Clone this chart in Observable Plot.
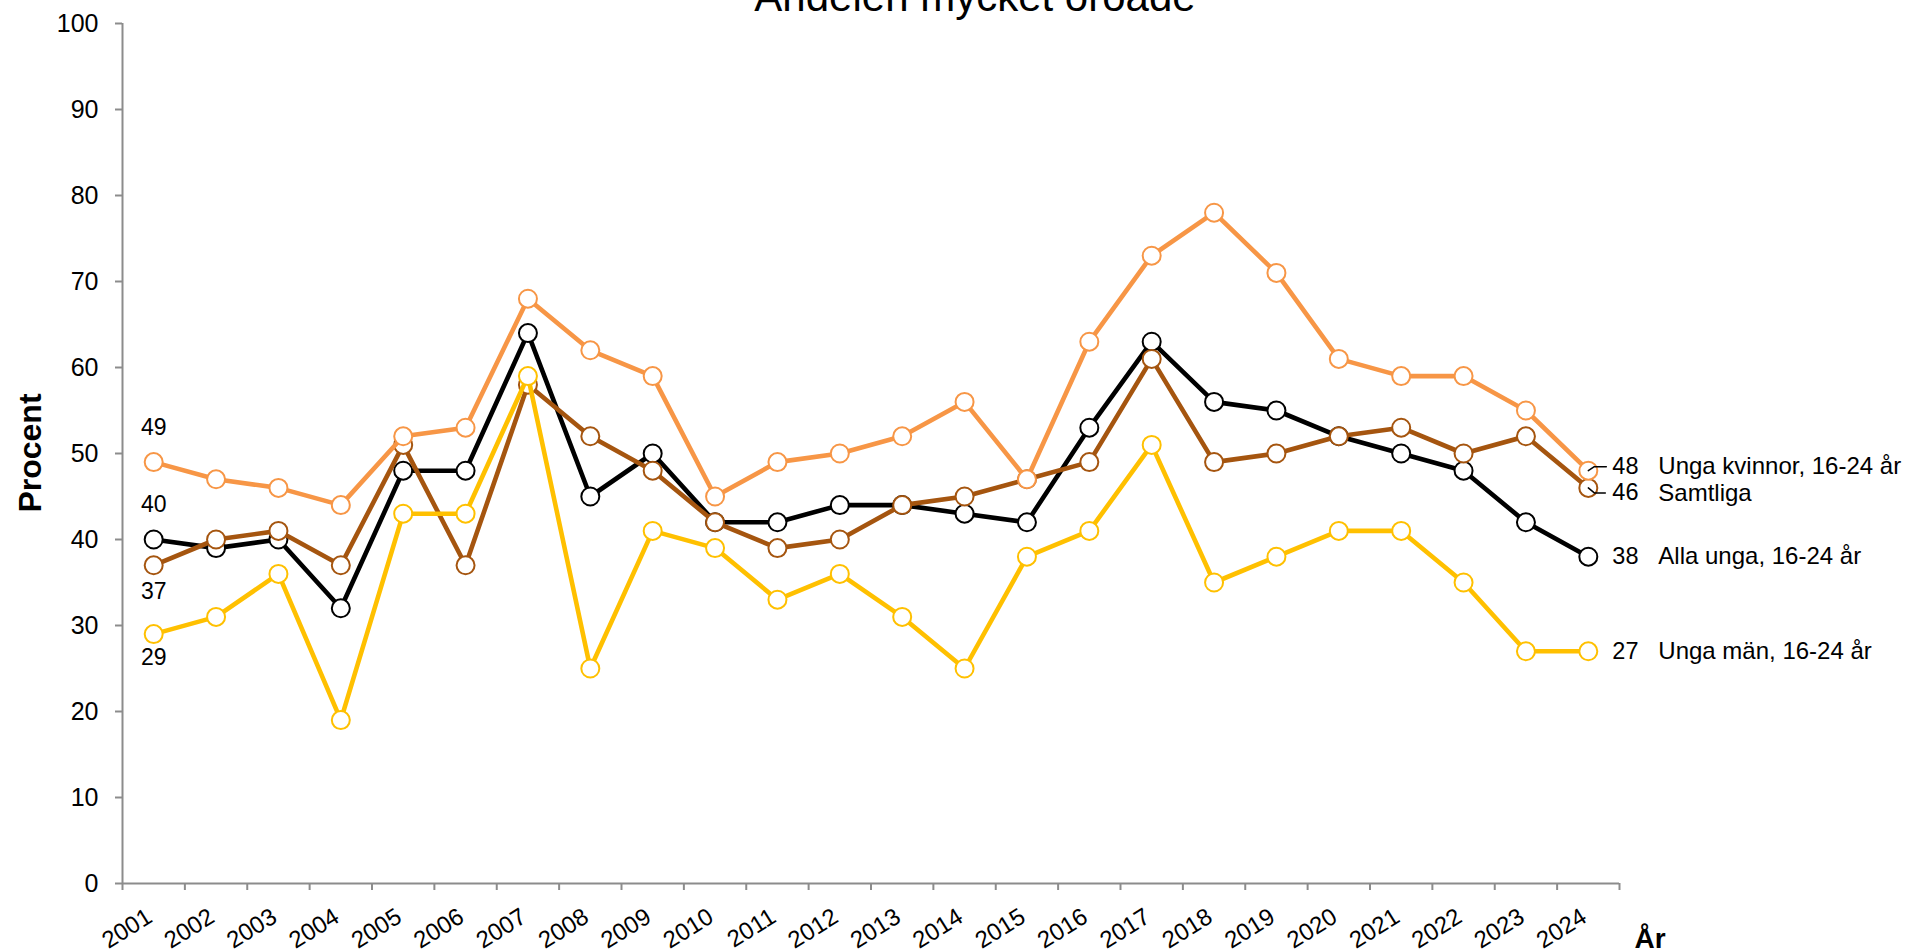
<!DOCTYPE html>
<html>
<head>
<meta charset="utf-8">
<script src="https://cdn.jsdelivr.net/npm/d3@7"></script>
<script src="https://cdn.jsdelivr.net/npm/@observablehq/plot@0.6"></script>
<style>
  html, body { margin: 0; padding: 0; background: #fff; overflow: hidden; }
  #chart svg { display: block; }
</style>
</head>
<body>
<div id="chart"></div>
<script>
// ---- Data ----
const years = [2001,2002,2003,2004,2005,2006,2007,2008,2009,2010,2011,2012,2013,2014,2015,2016,2017,2018,2019,2020,2021,2022,2023,2024];
const xTickLabels = years.map(String);
const yTicks = [0,10,20,30,40,50,60,70,80,90,100];

const allaUnga    = [40,39,40,32,48,48,64,45,50,42,42,44,44,43,42,53,63,56,55,52,50,48,42,38];
const samtliga    = [37,40,41,37,51,37,58,52,48,42,39,40,44,45,47,49,61,49,50,52,53,50,52,46];
const ungaMan     = [29,31,36,19,43,43,59,25,41,39,33,36,31,25,38,41,51,35,38,41,41,35,27,27];
const ungaKvinnor = [49,47,46,44,52,53,68,62,59,45,49,50,52,56,47,63,73,78,71,61,59,59,55,48];

const seriesNames = ["Alla unga, 16-24 år", "Samtliga", "Unga män, 16-24 år", "Unga kvinnor, 16-24 år"];
const seriesValues = [allaUnga, samtliga, ungaMan, ungaKvinnor];
const seriesColors = ["#000000", "#A5550F", "#FFC000", "#F79646"];

// label offsets (style)
const startDy = [-35, 26, 24, -34];
const endDy = [0, 5, 0, -4];

const FONT = "'Liberation Sans', Arial, sans-serif";
const AXIS = "#8c8c8c";

const marks = [];

// axis lines
marks.push(Plot.ruleY([0], {stroke: AXIS, strokeWidth: 2}));
marks.push(Plot.ruleX([2000.5], {stroke: AXIS, strokeWidth: 2}));

marks.push(Plot.axisY({
  ticks: yTicks, tickSize: 7, tickPadding: 17, fontSize: 25,
  stroke: AXIS, strokeWidth: 2, fill: "black", label: null
}));
marks.push(Plot.axisX({
  ticks: d3.range(2000.5, 2025, 1), tickSize: 7, tickFormat: () => "",
  stroke: AXIS, strokeWidth: 2, label: null
}));

// x tick labels (rotated)
marks.push(Plot.text(xTickLabels, {
  x: (d, i) => years[i], text: d => d, frameAnchor: "bottom",
  dx: -4, dy: 31, rotate: -32, textAnchor: "end", lineAnchor: "middle",
  fontSize: 24, fill: "black"
}));

// series lines + dots
seriesNames.forEach((name, s) => {
  const rows = years.map((y, i) => ({year: y, value: seriesValues[s][i]}));
  marks.push(Plot.line(rows, {x: "year", y: "value", stroke: seriesColors[s], strokeWidth: 4.6, strokeLinejoin: "round"}));
  marks.push(Plot.dot(rows, {x: "year", y: "value", r: 9, fill: "white", stroke: seriesColors[s], strokeWidth: 2}));
});

// leader lines for the two close end labels
const leaderUp = {draw(ctx) { ctx.moveTo(0, 0); ctx.lineTo(6, -4); ctx.lineTo(18, -4); }};
const leaderDown = {draw(ctx) { ctx.moveTo(0, 0); ctx.lineTo(6, 5); ctx.lineTo(17, 5); }};
const last = years.length - 1;
marks.push(Plot.vector([{year: years[last], value: ungaKvinnor[last]}], {
  x: "year", y: "value", length: 1, rotate: 0, anchor: "start", shape: leaderUp, stroke: "black", strokeWidth: 1.5
}));
marks.push(Plot.vector([{year: years[last], value: samtliga[last]}], {
  x: "year", y: "value", length: 1, rotate: 0, anchor: "start", shape: leaderDown, stroke: "black", strokeWidth: 1.5
}));

// start and end labels
seriesNames.forEach((name, s) => {
  marks.push(Plot.text([{year: years[0], value: seriesValues[s][0]}], {
    x: "year", y: "value", text: d => String(d.value), dy: startDy[s],
    fontSize: 23, fill: "black", textAnchor: "middle"
  }));
  marks.push(Plot.text([{year: years[last], value: seriesValues[s][last]}], {
    x: "year", y: "value", text: d => String(d.value), dx: 24, dy: endDy[s],
    fontSize: 23.5, fill: "black", textAnchor: "start"
  }));
  marks.push(Plot.text([{year: years[last], value: seriesValues[s][last], name}], {
    x: "year", y: "value", text: "name", dx: 70, dy: endDy[s],
    fontSize: 24, fill: "black", textAnchor: "start"
  }));
});

const chart = Plot.plot({
  width: 1908,
  height: 952,
  marginLeft: 122,
  marginRight: 289,
  marginTop: 23,
  marginBottom: 69,
  style: {fontFamily: FONT, color: "black", background: "white", overflow: "visible"},
  x: {domain: [2000.5, 2024.5]},
  y: {domain: [0, 100]},
  marks
});

document.getElementById("chart").appendChild(chart);

const svg = d3.select(chart);
svg.append("text")
  .attr("x", 975).attr("y", 11)
  .attr("text-anchor", "middle")
  .attr("font-family", FONT).attr("font-size", 42).attr("fill", "black")
  .text("Andelen mycket oroade");
svg.append("text")
  .attr("transform", "translate(41,453) rotate(-90)")
  .attr("text-anchor", "middle")
  .attr("font-family", FONT).attr("font-size", 32).attr("font-weight", "bold").attr("fill", "black")
  .text("Procent");
svg.append("text")
  .attr("x", 1650).attr("y", 948)
  .attr("font-family", FONT).attr("font-size", 28).attr("font-weight", "bold").attr("fill", "black")
  .text("År");
</script>
</body>
</html>
